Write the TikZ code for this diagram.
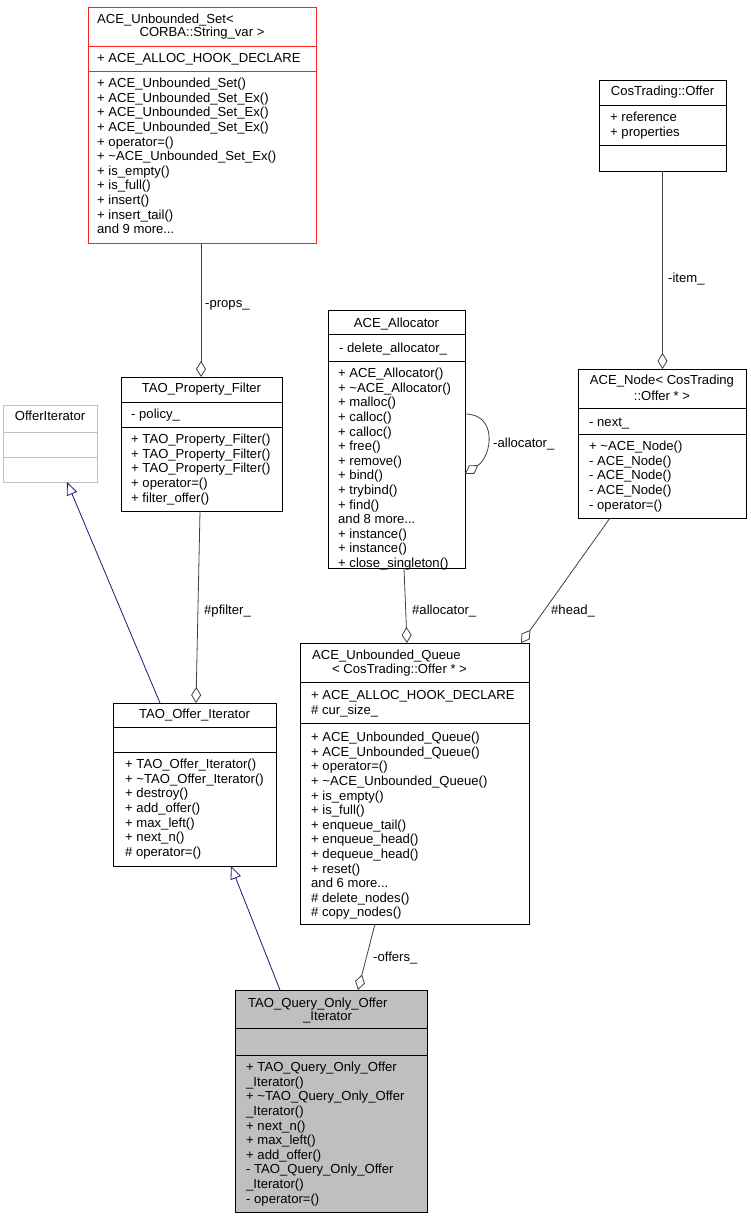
\documentclass[tikz,border=0pt]{standalone}
\usepackage{fontspec}
\setmainfont{Liberation Sans}
\usetikzlibrary{arrows.meta}
\definecolor{edgegray}{HTML}{404040}
\definecolor{navyedge}{HTML}{191970}
\definecolor{boxgray}{HTML}{BFBFBF}
\definecolor{lightborder}{HTML}{BFBFBF}
\definecolor{setred}{HTML}{FF2020}
\newcommand\tp{\rule{0pt}{10pt}}
\newcommand\tl{\textasciitilde}
\newcommand\fnt{\fontsize{13.1}{14.6}\selectfont}
\begin{document}
\begin{tikzpicture}[x=1pt,y=-1pt,
  cls/.style={draw=black, line width=1pt, inner sep=0pt, outer sep=0pt, anchor=north west, fill=white},
  sepline/.style={line width=1pt},
  txt/.style={anchor=north west, inner sep=0pt, align=left, font=\fnt},
  ttl/.style={anchor=base, inner sep=0pt, font=\fnt},
  ttlw/.style={anchor=base west, inner sep=0pt, font=\fnt},
  lbl/.style={anchor=base west, inner sep=0pt, font=\fnt},
  agg/.style={draw=edgegray, line width=0.8pt, -{Diamond[open,length=16pt,width=10pt]}},
  inh/.style={draw=navyedge, line width=0.8pt, -{Triangle[open,length=13pt,width=11pt]}}]
\useasboundingbox (0,0) rectangle (751,1219);

% ACE_Unbounded_Set
\node[cls, draw=setred, minimum width=228pt, minimum height=236pt] (set) at (88,7) {};
\draw[sepline, setred] (set.west |- 0,46.7) -- (set.east |- 0,46.7);
\draw[sepline, setred] (set.west |- 0,71) -- (set.east |- 0,71);
\node[ttlw] (settitleA) at (97,23.5) {ACE\_Unbounded\_Set<};
\node[ttl] (settitleB) at (202,36.8) {CORBA::String\_var >};
\node[txt] (setattr) at (97,52.5) {\tp+ ACE\_ALLOC\_HOOK\_DECLARE};
\node[txt] (setmeth) at (97,77.5) {\tp+ ACE\_Unbounded\_Set()\\+ ACE\_Unbounded\_Set\_Ex()\\+ ACE\_Unbounded\_Set\_Ex()\\+ ACE\_Unbounded\_Set\_Ex()\\+ operator=()\\+ \tl ACE\_Unbounded\_Set\_Ex()\\+ is\_empty()\\+ is\_full()\\+ insert()\\+ insert\_tail()\\and 9 more...};

% CosTrading::Offer
\node[cls, minimum width=127pt, minimum height=91pt] (offer) at (599,80) {};
\draw[sepline] (offer.west |- 0,105) -- (offer.east |- 0,105);
\draw[sepline] (offer.west |- 0,145) -- (offer.east |- 0,145);
\node[ttl] (offertitle) at (662.5,95.5) {CosTrading::Offer};
\node[txt] (offerattr) at (610,111.5) {\tp+ reference\\+ properties};

% ACE_Node
\node[cls, minimum width=168pt, minimum height=149pt] (anode) at (578,369) {};
\draw[sepline] (anode.west |- 0,408) -- (anode.east |- 0,408);
\draw[sepline] (anode.west |- 0,434) -- (anode.east |- 0,434);
\node[ttl] (anodetitleA) at (662,384.5) {ACE\_Node< CosTrading};
\node[ttl] (anodetitleB) at (662,400.5) {::Offer * >};
\node[txt] (anodeattr) at (589,416.5) {\tp- next\_};
\node[txt] (anodemeth) at (589,440.5) {\tp+ \tl ACE\_Node()\\- ACE\_Node()\\- ACE\_Node()\\- ACE\_Node()\\- operator=()};

% ACE_Allocator
\node[cls, minimum width=137pt, minimum height=258pt] (alloc) at (328,310) {};
\draw[sepline] (alloc.west |- 0,334) -- (alloc.east |- 0,334);
\draw[sepline] (alloc.west |- 0,361) -- (alloc.east |- 0,361);
\node[ttl] (alloctitle) at (396.5,327.5) {ACE\_Allocator};
\node[txt] (allocattr) at (339,342.5) {\tp- delete\_allocator\_};
\node[txt] (allocmeth) at (338,367.5) {\tp+ ACE\_Allocator()\\+ \tl ACE\_Allocator()\\+ malloc()\\+ calloc()\\+ calloc()\\+ free()\\+ remove()\\+ bind()\\+ trybind()\\+ find()\\and 8 more...\\+ instance()\\+ instance()\\+ close\_singleton()};

% TAO_Property_Filter
\node[cls, minimum width=161pt, minimum height=134pt] (pf) at (121,377) {};
\draw[sepline] (pf.west |- 0,402) -- (pf.east |- 0,402);
\draw[sepline] (pf.west |- 0,427) -- (pf.east |- 0,427);
\node[ttl] (pftitle) at (201.5,392.5) {TAO\_Property\_Filter};
\node[txt] (pfattr) at (131,408.5) {\tp- policy\_};
\node[txt] (pfmeth) at (131,433.5) {\tp+ TAO\_Property\_Filter()\\+ TAO\_Property\_Filter()\\+ TAO\_Property\_Filter()\\+ operator=()\\+ filter\_offer()};

% OfferIterator
\node[cls, draw=lightborder, minimum width=94pt, minimum height=77pt] (oi) at (3,405) {};
\draw[sepline, lightborder] (oi.west |- 0,432) -- (oi.east |- 0,432);
\draw[sepline, lightborder] (oi.west |- 0,457) -- (oi.east |- 0,457);
\node[ttl] (oititle) at (50,420.5) {OfferIterator};

% TAO_Offer_Iterator
\node[cls, minimum width=163pt, minimum height=163pt] (toi) at (113,703) {};
\draw[sepline] (toi.west |- 0,727) -- (toi.east |- 0,727);
\draw[sepline] (toi.west |- 0,752) -- (toi.east |- 0,752);
\node[ttl] (toititle) at (194.5,718.5) {TAO\_Offer\_Iterator};
\node[txt] (toimeth) at (125,758.5) {\tp+ TAO\_Offer\_Iterator()\\+ \tl TAO\_Offer\_Iterator()\\+ destroy()\\+ add\_offer()\\+ max\_left()\\+ next\_n()\\\# operator=()};

% ACE_Unbounded_Queue
\node[cls, minimum width=229pt, minimum height=281pt] (queue) at (300,643) {};
\draw[sepline] (queue.west |- 0,682) -- (queue.east |- 0,682);
\draw[sepline] (queue.west |- 0,723) -- (queue.east |- 0,723);
\node[ttlw] (queuetitleA) at (312,659.5) {ACE\_Unbounded\_Queue};
\node[ttlw] (queuetitleB) at (332,673.5) {< CosTrading::Offer * >};
\node[txt] (queueattr) at (311,689.5) {\tp+ ACE\_ALLOC\_HOOK\_DECLARE\\\# cur\_size\_};
\node[txt] (queuemeth) at (311,731.5) {\tp+ ACE\_Unbounded\_Queue()\\+ ACE\_Unbounded\_Queue()\\+ operator=()\\+ \tl ACE\_Unbounded\_Queue()\\+ is\_empty()\\+ is\_full()\\+ enqueue\_tail()\\+ enqueue\_head()\\+ dequeue\_head()\\+ reset()\\and 6 more...\\\# delete\_nodes()\\\# copy\_nodes()};

% TAO_Query_Only_Offer_Iterator
\node[cls, fill=boxgray, minimum width=192pt, minimum height=222pt] (qoi) at (235,990) {};
\draw[sepline] (qoi.west |- 0,1028) -- (qoi.east |- 0,1028);
\draw[sepline] (qoi.west |- 0,1055) -- (qoi.east |- 0,1055);
\node[ttlw] (qoititleA) at (248,1007.5) {TAO\_Query\_Only\_Offer};
\node[ttlw] (qoititleB) at (303,1020.5) {\_Iterator};
\node[txt] (qoimeth) at (246,1061.5) {\tp+ TAO\_Query\_Only\_Offer\\\_Iterator()\\+ \tl TAO\_Query\_Only\_Offer\\\_Iterator()\\+ next\_n()\\+ max\_left()\\+ add\_offer()\\- TAO\_Query\_Only\_Offer\\\_Iterator()\\- operator=()};

% connectors
\draw[agg] (set.south -| 201,0) -- (pf.north -| 201,0);
\node[lbl] (lprops) at (205,307) {-props\_};

\draw[agg] (offer.south) -- (anode.north -| 662.5,0);
\node[lbl] (litem) at (668,282.5) {-item\_};

\draw[agg] (alloc.east |- 0,414) .. controls (498,414) and (492,456) .. (alloc.east |- 0,474);
\node[lbl] (lalloc) at (493,447.5) {-allocator\_};

\draw[agg] (alloc.south -| 404,0) -- (queue.north -| 407,0);
\node[lbl] (lallocq) at (412,614.5) {\#allocator\_};

\draw[agg] (anode.south -| 610,0) -- (queue.north -| 521,0);
\node[lbl] (lhead) at (551,614.5) {\#head\_};

\draw[agg] (pf.south -| 200,0) -- (toi.north -| 196,0);
\node[lbl] (lpfilter) at (204,614.5) {\#pfilter\_};

\draw[agg] (queue.south -| 375,0) -- (qoi.north -| 358,0);
\node[lbl] (loffers) at (373,961.5) {-offers\_};

\draw[inh] (toi.north -| 160,0) -- (oi.south -| 67,0);
\draw[inh] (qoi.north -| 280,0) -- (toi.south -| 231,0);
\end{tikzpicture}
\end{document}
